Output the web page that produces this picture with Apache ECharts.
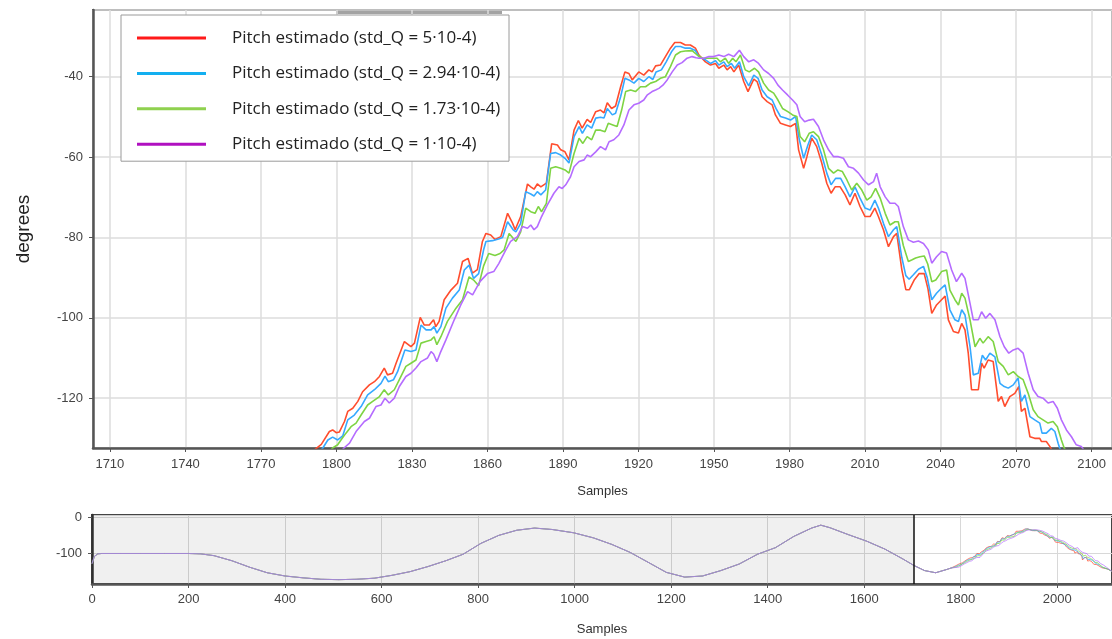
<!DOCTYPE html>
<html><head><meta charset="utf-8">
<script src="https://cdn.jsdelivr.net/npm/echarts@6/dist/echarts.min.js"></script>
<style>html,body{margin:0;padding:0;background:#fff}#c{width:1112px;height:639px}</style>
</head><body><div id="c"></div>
<script>
const seriesNames = [
  'Pitch estimado (std_Q = 5·10-4)',
  'Pitch estimado (std_Q = 2.94·10-4)',
  'Pitch estimado (std_Q = 1.73·10-4)',
  'Pitch estimado (std_Q = 1·10-4)'
];
const lineColors = ['#ff4d2e', '#35a9ff', '#7ed443', '#b56cff'];
const legendColors = ['#ff1a1a', '#13aff0', '#8fd14f', '#b010c0'];

// shared early history (overview scale, all four curves overlap)
const headSamples = [0,5,12,20,60,100,150,200,225,253,290,327,363,400,437,474,511,548,585,622,659,696,733,769,806,843,880,917,954,998,1039,1077,1115,1152,1190,1228,1265,1303,1341,1379,1416,1454,1491,1510,1529,1567,1605,1643,1680,1703,1725,1748,1771,1780];
const headValues  = [-128,-108,-101,-100,-100,-100,-100,-100,-101,-106,-120,-138,-153,-162,-167,-171,-172,-171,-168,-160,-150,-136,-120,-102,-72,-50,-36,-30,-34,-43,-57,-75,-97,-124,-152,-165,-162,-147,-129,-102,-84,-53,-30,-22,-29,-48,-66,-88,-115,-133,-147,-153,-144,-140];
const tailSamples = [2105, 2113];
const tailValues  = [-143, -149];

// detailed section [sample, degrees]
const redDetail = [[1790,-133.5],[1794,-131.5],[1797.2,-128.3],[1798.5,-127.9],[1799.9,-128.6],[1801.2,-128.4],[1803.2,-125.8],[1804.5,-123.3],[1806.5,-122.5],[1808.5,-120.8],[1810.4,-118.4],[1813.1,-116.7],[1815.1,-115.9],[1817.1,-114.6],[1819,-112.5],[1820.3,-114.2],[1822.3,-113.8],[1823.7,-111.3],[1827,-105.9],[1829.6,-107.2],[1831,-106.3],[1833.3,-99.9],[1834.9,-101.8],[1836.9,-101.8],[1838.6,-100.5],[1839.5,-102.2],[1840.8,-100.9],[1842.8,-95.5],[1845.5,-93.1],[1848.1,-91.4],[1850.1,-86],[1852.3,-85.2],[1854,-88.9],[1856,-88],[1858,-81],[1859.4,-79],[1861.3,-79.4],[1863,-80.5],[1865.3,-79.8],[1868,-74],[1870,-76.5],[1871,-78.1],[1873.2,-74.8],[1875.9,-66.7],[1877.2,-67.4],[1878.5,-68],[1879.8,-66.7],[1881.2,-67.4],[1883.4,-66.5],[1885.5,-56.7],[1887.8,-57],[1889.1,-58.2],[1890.8,-58.7],[1892.4,-60.7],[1894.4,-53.3],[1896.1,-50.9],[1897.6,-52.8],[1899.6,-50.6],[1901,-51.4],[1903,-48.7],[1904.9,-48.3],[1906.3,-49],[1907.6,-46.5],[1909.3,-47.9],[1910.9,-47.3],[1912.9,-42.5],[1914.6,-38.8],[1916.2,-39.2],[1917.5,-40.8],[1920.1,-38.8],[1922.1,-39.6],[1924.1,-38.3],[1925.4,-38.8],[1926.8,-37.3],[1928.7,-37.1],[1930.7,-35],[1932.7,-32.9],[1934.4,-31.5],[1936.7,-31.5],[1938.6,-32.1],[1940.6,-32.1],[1942.6,-32.9],[1944,-34.6],[1946.6,-36.3],[1948.6,-37.1],[1950.6,-36.7],[1951.9,-37.9],[1953.9,-37.1],[1955.2,-38.3],[1956.6,-37.5],[1957.9,-38.8],[1959.8,-37.1],[1961.8,-41.2],[1963.5,-43.7],[1965.8,-40.6],[1967.1,-41.2],[1969.1,-45],[1971.1,-46.2],[1973.1,-47],[1974.4,-49.5],[1976.4,-51.6],[1978.4,-52],[1980.4,-52.4],[1982.4,-51.6],[1983.6,-58.2],[1985.6,-62.8],[1986.9,-59.9],[1988.8,-55.3],[1990.8,-57.4],[1992.8,-61.5],[1994.8,-66.5],[1996.5,-69],[1998.1,-67.4],[2000.1,-67.4],[2002.1,-69.4],[2004,-71.9],[2006,-69],[2008,-72.3],[2010,-74.8],[2012,-74.8],[2013.9,-72.7],[2015.3,-74.8],[2017.3,-78.1],[2019.3,-82.3],[2021.3,-79.8],[2022.6,-79],[2024.6,-88],[2026.2,-93],[2027.6,-93],[2029.6,-90.5],[2031.5,-89],[2033.5,-89],[2035,-92.8],[2036.5,-98.9],[2038.4,-96.8],[2040.4,-95.5],[2041.8,-94.6],[2043.1,-100.5],[2045.1,-103.4],[2047.1,-103.8],[2048.4,-101.4],[2049.7,-103],[2051,-108.8],[2052.3,-117.9],[2055,-117.9],[2056.3,-111.3],[2057.3,-112.5],[2058.9,-110.5],[2060.9,-110.9],[2062.9,-120.8],[2064.2,-119.6],[2065.5,-122.1],[2067.5,-119.6],[2069.5,-118.8],[2071.1,-117.1],[2072.1,-123.3],[2073.5,-122.5],[2075.5,-129.6],[2077.4,-130],[2079.4,-130],[2080.1,-130.8],[2082,-130.8],[2083.4,-132],[2086,-135],[2092,-139]];

const blueDetail = [[1790,-136],[1794.6,-132.4],[1796.6,-130.4],[1798.5,-129.7],[1800.5,-130.4],[1802.5,-129.4],[1804.5,-125.4],[1807.1,-124.2],[1809.8,-122.1],[1812.4,-119.2],[1815.1,-117.9],[1817.7,-116.3],[1819.3,-114.5],[1820.6,-115.9],[1822.7,-115.4],[1824.3,-113.4],[1827.2,-108],[1829.6,-108.4],[1831.6,-108],[1833.6,-101.8],[1835.6,-103],[1837.6,-103],[1838.8,-102.2],[1839.9,-103.8],[1841.5,-102.2],[1843.5,-97.6],[1846.1,-95.1],[1848.8,-93.1],[1850.8,-88.1],[1852.7,-86.9],[1854.5,-90.2],[1856.5,-89],[1858.5,-83],[1859.4,-81],[1862,-80.8],[1864.4,-80.4],[1866,-80],[1868,-76.1],[1870.2,-78.1],[1871.3,-78.6],[1873.2,-76.5],[1875.2,-68.6],[1877.2,-69.2],[1878.5,-69.7],[1879.8,-68.6],[1881.2,-69.4],[1883.1,-68.2],[1885.1,-59.1],[1887.1,-58.9],[1889.1,-59.5],[1890.8,-60.3],[1892.4,-61.5],[1894.4,-54.9],[1896.4,-52.4],[1897.7,-54.1],[1899.6,-52],[1901.4,-52.8],[1903,-50.3],[1904.9,-50.1],[1906.3,-50.3],[1907.6,-47.9],[1909.6,-49.5],[1910.9,-49.1],[1912.9,-45],[1914.6,-40.4],[1916.2,-40.8],[1918.2,-41.6],[1920.1,-40.4],[1922.1,-41.2],[1924.1,-40],[1925.7,-40.7],[1927,-38.8],[1929.1,-38.3],[1931,-36.3],[1933.1,-33.8],[1934.7,-32.5],[1936.7,-32.5],[1938.6,-32.9],[1940.6,-32.9],[1942.6,-33.5],[1944,-35],[1946.6,-35.8],[1948.6,-36.7],[1950.6,-36],[1951.9,-37.1],[1953.9,-36.3],[1955.2,-37.5],[1956.9,-36.7],[1958.2,-37.9],[1960.1,-36.3],[1961.8,-40],[1963.8,-42.3],[1965.8,-39.6],[1967.5,-40.4],[1969.1,-43.3],[1971.1,-45],[1973.1,-45.8],[1974.6,-47.9],[1976.4,-49.9],[1978.4,-50.3],[1980.4,-50.8],[1982.4,-49.9],[1983.9,-55.7],[1985.6,-60.3],[1987.3,-57],[1988.8,-54.5],[1990.8,-55.7],[1992.8,-59.5],[1994.8,-64],[1996.5,-66.9],[1998.3,-65.3],[2000.3,-65.3],[2002.1,-67.4],[2004,-69.9],[2006,-67.4],[2008,-70.2],[2010,-72.7],[2012,-73.2],[2013.9,-70.7],[2015.3,-72.7],[2017.3,-76.5],[2019.3,-79.8],[2021.3,-78.1],[2022.6,-77.3],[2024.6,-85],[2026.2,-89.5],[2027.5,-90.4],[2029.2,-89.3],[2031.2,-87.9],[2033.2,-87.2],[2034.7,-90],[2036.5,-95.5],[2038.4,-93.9],[2040.4,-92.6],[2041.8,-91.8],[2043.7,-98],[2045.7,-100.5],[2047.1,-100.9],[2048.4,-98],[2049.7,-99.3],[2051.7,-107.2],[2053,-114.2],[2055,-113.8],[2056.6,-109.3],[2057.9,-110.5],[2059.6,-108.8],[2061.6,-109.7],[2063.6,-116.3],[2065.3,-117.1],[2066.9,-117.5],[2068.9,-116.7],[2070.8,-115],[2072.1,-120.8],[2073.5,-119.2],[2075.5,-124.6],[2077.4,-125.4],[2079.4,-126.2],[2080.3,-128.7],[2082,-128.7],[2084,-127.5],[2085.4,-128.3],[2086.7,-131.2],[2087.3,-132.4],[2093,-138]];

const greenDetail = [[1792,-137],[1798.5,-132.4],[1800.5,-131.6],[1801.8,-130.4],[1803.8,-128.7],[1805.8,-127.1],[1807.8,-126.2],[1809.8,-124.2],[1812.4,-121.7],[1814.4,-120.8],[1817.1,-119.6],[1819,-117.9],[1820.6,-119.2],[1823,-117.9],[1825,-115.4],[1827.6,-112.1],[1829.6,-111.3],[1831.6,-110.5],[1833.6,-106.3],[1835.6,-105.9],[1837.6,-105.5],[1838.8,-104.7],[1839.9,-106.7],[1841.5,-104.7],[1844.1,-100.9],[1847.5,-97.6],[1850.1,-95.5],[1852.7,-89.8],[1854.5,-90.6],[1856.5,-92],[1858.5,-87],[1860.5,-84],[1863,-84.5],[1865,-84],[1866.6,-83.1],[1868.6,-79],[1870.2,-80.2],[1871.3,-81],[1873.2,-78.6],[1875.2,-72.7],[1877.2,-73.6],[1878.9,-74],[1880.2,-72.3],[1881.5,-73.6],[1883.4,-71.5],[1885.1,-62.8],[1887.1,-62.4],[1889.1,-62.8],[1890.8,-63.2],[1892.4,-64],[1894.4,-59.1],[1896.4,-55.3],[1897.9,-56.6],[1899.6,-54.9],[1901.4,-55.7],[1903,-53.3],[1904.9,-53.3],[1906.7,-53.7],[1908,-51.6],[1909.8,-52],[1911.5,-52.4],[1913.3,-48.3],[1914.9,-43.7],[1916.9,-43.3],[1918.8,-43.7],[1920.8,-42.5],[1922.8,-42.5],[1924.8,-41.6],[1926.8,-41.2],[1928.7,-40.4],[1930.7,-40],[1932.7,-37.5],[1934.7,-34.6],[1936.7,-33.8],[1938.6,-33.6],[1941.3,-33.5],[1943.3,-34.6],[1945.3,-35.4],[1947.2,-35.4],[1949.2,-35.4],[1951.2,-35.4],[1952.5,-36.3],[1954.5,-35.4],[1955.8,-36.7],[1957.4,-35.4],[1958.7,-36.3],[1960.5,-34.6],[1962.4,-38.3],[1964,-38.8],[1966.1,-37.9],[1967.7,-38.8],[1969.7,-41.6],[1971.7,-43.3],[1973.7,-44.1],[1975.4,-45.8],[1977.2,-47.9],[1979.3,-48.7],[1981.2,-49.5],[1982.9,-49.9],[1984.2,-54.9],[1986,-56.2],[1987.8,-54.1],[1989.5,-53.7],[1991.5,-54.9],[1993.5,-58.2],[1995.5,-62.8],[1997.5,-64],[1999.2,-63.2],[2001,-63.6],[2002.8,-65.7],[2004.7,-68.2],[2006.7,-66.5],[2008.7,-68.2],[2010.7,-70.7],[2012.4,-69.9],[2014.2,-67.8],[2016,-70.2],[2018,-74],[2019.9,-76.9],[2021.9,-76.1],[2023.2,-76.1],[2025.2,-82],[2027.2,-86],[2028.5,-85.6],[2030.1,-85.1],[2031.8,-84.8],[2033.5,-84.6],[2034.9,-86.6],[2036.5,-91],[2038.1,-90.6],[2040.4,-88.5],[2042.4,-88.1],[2043.7,-93.1],[2045.7,-95.5],[2047.1,-96.8],[2048.4,-93.9],[2049.7,-95.1],[2051.7,-100.5],[2053.7,-107.2],[2055.6,-105.1],[2056.9,-106.3],[2058.9,-104.7],[2060.9,-105.9],[2062.9,-110.9],[2064.9,-112.1],[2066.9,-114.2],[2068.9,-113.4],[2070.8,-114.6],[2072.8,-115.4],[2074.8,-118.8],[2076.8,-122.9],[2078.7,-124.6],[2080.7,-125.4],[2082.7,-126.2],[2084.7,-125.8],[2086.4,-127.1],[2088,-130.4],[2089.1,-132.4],[2095,-138]];

const purpleDetail = [[1796,-137.5],[1803,-132.4],[1805.2,-131.2],[1807.8,-128.3],[1811.1,-125.8],[1813.1,-125],[1815.7,-122.1],[1817.7,-121.7],[1819.3,-120],[1821,-121.2],[1823,-120],[1825,-117.1],[1827.6,-114.6],[1829.6,-113.8],[1831.6,-112.5],[1833.6,-110.9],[1836.2,-110],[1837.6,-108.4],[1838.6,-109],[1839.9,-110.9],[1841.2,-108.8],[1843.5,-105.5],[1846.8,-100.5],[1849.4,-96.8],[1852.1,-93.5],[1854.1,-94.3],[1857,-91],[1860,-89],[1862.5,-88.5],[1864.5,-86.5],[1867.3,-83.1],[1869.2,-81],[1871.9,-79.8],[1873.9,-77.3],[1875.9,-77.7],[1877.2,-76.9],[1878.5,-78.1],[1879.8,-77.3],[1881.5,-74.8],[1883.8,-71.9],[1886.4,-69],[1888.4,-67.4],[1889.7,-67.8],[1891.1,-66.9],[1893,-64.9],[1894.4,-62.4],[1896.4,-61.1],[1898.4,-60.7],[1899.6,-59.5],[1901,-59.9],[1903,-58.7],[1904.9,-57.4],[1906.9,-58.2],[1908.3,-56.2],[1910.2,-55.7],[1912.2,-54.5],[1914.2,-52],[1916.2,-48.3],[1918.2,-47],[1920.1,-46.6],[1922.1,-45.8],[1923.4,-44.6],[1925.4,-43.7],[1926.8,-43.3],[1928.1,-42.9],[1929.7,-42.1],[1931.4,-40.8],[1933.4,-38.8],[1935.4,-37.1],[1937.3,-36.5],[1939.3,-35.4],[1941.3,-35],[1942.9,-35.3],[1944,-35.4],[1946,-35.4],[1948,-35],[1949.9,-35],[1951.9,-34.6],[1953.9,-35],[1955.8,-34.4],[1957.9,-35],[1960.1,-33.4],[1961.8,-35],[1963.8,-36.3],[1965.8,-35.8],[1967.7,-36.7],[1969.7,-38.3],[1971.7,-39.2],[1973.7,-40.4],[1975.4,-42.1],[1977.2,-43.3],[1979.3,-44.6],[1981.2,-45.8],[1982.9,-47],[1984.2,-49.9],[1986,-51.2],[1987.8,-50.8],[1989.5,-50.6],[1991.5,-52.4],[1993.5,-55.7],[1995.5,-58.2],[1997.5,-59.9],[1999.4,-59.9],[2001.4,-60.3],[2003.4,-62.4],[2005.4,-62.8],[2007.4,-64],[2009.4,-65.7],[2011.4,-66.9],[2013.4,-66.1],[2014.6,-64],[2016,-67.4],[2018,-69.9],[2019.9,-71.5],[2021.9,-71.5],[2023.2,-72.3],[2025.2,-77.3],[2027.2,-80.6],[2029.2,-81.2],[2031.2,-80.9],[2033.2,-81.5],[2035.1,-83.1],[2036.5,-86.4],[2038.4,-84.8],[2040.4,-83.5],[2042.4,-83.9],[2044.4,-88.1],[2046.3,-91],[2048.4,-88.9],[2049.7,-90.2],[2051.7,-96.4],[2053,-100.5],[2055,-100.5],[2056.3,-98.5],[2057.9,-100.1],[2059.6,-98.9],[2061.6,-100.5],[2063.6,-104.7],[2065.3,-107.2],[2067.1,-108.8],[2068.9,-108],[2070.8,-107.6],[2072.8,-108.8],[2074.8,-113.8],[2076.8,-117.9],[2078.7,-119.6],[2080.7,-120],[2082.7,-121.2],[2084.7,-120.8],[2086.4,-122.5],[2088,-125.4],[2090,-127.9],[2092,-129.6],[2093.9,-131.6],[2095.9,-132],[2097,-133],[2102,-138]];

const details = [redDetail, blueDetail, greenDetail, purpleDetail];

// visible window of the main plot (selected region of the overview)
const windowStart = 1703.3;
const windowEnd = 2108.1;
const mainYMin = -132.4, mainYMax = -23.4;
const overviewXMax = 2113.4;
const overviewYMin = -184, overviewYMax = 6;

const head = headSamples.map((s, i) => [s, headValues[i]]);
const tail = tailSamples.map((s, i) => [s, tailValues[i]]);
const fullData = details.map(d => head.concat(d, tail));

const labelFont = 'Liberation Sans, Arial, sans-serif';
const chart = echarts.init(document.getElementById('c'), null, {renderer: 'canvas'});

const series = [];
fullData.forEach((data, i) => {
  series.push({
    name: seriesNames[i], type: 'line', xAxisIndex: 0, yAxisIndex: 0,
    data: data, showSymbol: false, symbol: 'none', clip: true,
    lineStyle: {color: lineColors[i], width: 1.6}, itemStyle: {color: lineColors[i]},
    animation: false, z: 3
  });
});
fullData.forEach((data, i) => {
  const s = {
    name: seriesNames[i], type: 'line', xAxisIndex: 1, yAxisIndex: 1,
    data: data, showSymbol: false, symbol: 'none', clip: true,
    lineStyle: {color: lineColors[i], width: 1, opacity: 0.7}, itemStyle: {color: lineColors[i]},
    animation: false, z: 3
  };
  if (i === 0) {
    s.markArea = {silent: true, itemStyle: {color: 'rgba(0,0,0,0.06)'},
      data: [[{xAxis: 0}, {xAxis: windowStart}]]};
    s.markLine = {silent: true, symbol: 'none', label: {show: false},
      lineStyle: {color: '#111', width: 1.5, type: 'solid'},
      data: [{xAxis: windowStart}]};
  }
  series.push(s);
});

const plainNumber = v => String(Math.round(v));
const axisText = {color: '#444', fontSize: 13, fontFamily: labelFont, formatter: plainNumber};

chart.setOption({
  animation: false,
  backgroundColor: '#fff',
  grid: [
    {left: 93, top: 10, width: 1021, height: 438, show: true, borderColor: '#666', borderWidth: 2, backgroundColor: 'transparent'},
    {left: 92, top: 515, width: 1022, height: 69, show: true, borderColor: '#444', borderWidth: 2, backgroundColor: 'transparent'}
  ],
  legend: {
    orient: 'vertical', left: 121, top: 15,
    data: seriesNames.map((n, i) => ({name: n, icon: 'rect', itemStyle: {color: legendColors[i]}})),
    itemWidth: 69, itemHeight: 3, itemGap: 15.4,
    padding: [13, 5, 7, 16],
    backgroundColor: '#fff', borderColor: '#9a9a9a', borderWidth: 1, borderRadius: 0,
    textStyle: {fontFamily: 'Open Sans', fontSize: 17, color: '#222', lineHeight: 20, width: 272, padding: [0, 0, 0, 21]},
    selectedMode: false
  },
  xAxis: [
    {gridIndex: 0, type: 'value', min: windowStart, max: windowEnd, splitNumber: 14,
     name: 'Samples', nameLocation: 'middle', nameGap: 37,
     nameTextStyle: {color: '#333', fontSize: 13, fontFamily: labelFont},
     axisLine: {show: true, onZero: false, lineStyle: {color: '#555', width: 2.5}},
     axisTick: {show: true, length: 4, lineStyle: {color: '#555'}},
     axisLabel: Object.assign({margin: 10, showMinLabel: false, showMaxLabel: false}, axisText),
     splitLine: {show: true, lineStyle: {color: '#dcdcdc', width: 1.5}}},
    {gridIndex: 1, type: 'value', min: 0, max: overviewXMax, interval: 200,
     name: 'Samples', nameLocation: 'middle', nameGap: 39,
     nameTextStyle: {color: '#333', fontSize: 13, fontFamily: labelFont},
     axisLine: {show: true, onZero: false, lineStyle: {color: '#555', width: 2.5}},
     axisTick: {show: true, length: 4, lineStyle: {color: '#555'}},
     axisLabel: Object.assign({margin: 9, showMaxLabel: false}, axisText),
     splitLine: {show: true, lineStyle: {color: '#d8d8d8', width: 1}}}
  ],
  yAxis: [
    {gridIndex: 0, type: 'value', min: mainYMin, max: mainYMax, splitNumber: 5,
     name: 'degrees', nameLocation: 'middle', nameGap: 60, nameRotate: 90,
     nameTextStyle: {color: '#222', fontSize: 19, fontFamily: labelFont},
     axisLine: {show: true, onZero: false, lineStyle: {color: '#555', width: 2.5}},
     axisTick: {show: true, length: 4, lineStyle: {color: '#555'}},
     axisLabel: Object.assign({margin: 10, showMinLabel: false, showMaxLabel: false}, axisText),
     splitLine: {show: true, lineStyle: {color: '#dcdcdc', width: 1.5}}},
    {gridIndex: 1, type: 'value', min: overviewYMin, max: overviewYMax, splitNumber: 2,
     axisLine: {show: true, onZero: false, lineStyle: {color: '#333', width: 2.5}},
     axisTick: {show: true, length: 4, lineStyle: {color: '#555'}},
     axisLabel: Object.assign({margin: 10, showMinLabel: false, showMaxLabel: false}, axisText),
     splitLine: {show: true, lineStyle: {color: '#d8d8d8', width: 1}}}
  ],
  graphic: [
    {type: 'rect', left: 336, top: 9, shape: {width: 166, height: 5}, style: {fill: '#a3a3a3'}, z: -1}
  ],
  series: series
});
</script>
</body></html>
